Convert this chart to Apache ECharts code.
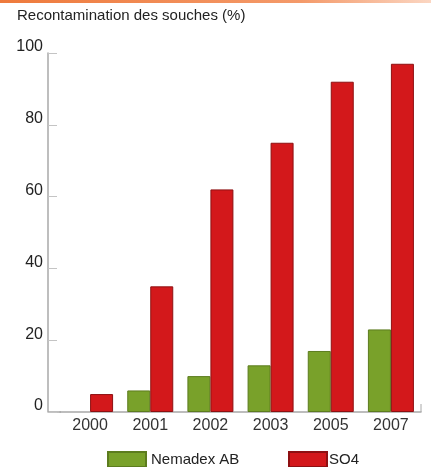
<!DOCTYPE html>
<html>
<head>
<meta charset="utf-8">
<script src="https://cdn.jsdelivr.net/npm/echarts@6/dist/echarts.min.js"></script>
<style>
html,body{margin:0;padding:0;background:#fff;}
#c{width:431px;height:467px;}
</style>
</head>
<body>
<div id="c"></div>
<script>
const categories = ['2000', '2001', '2002', '2003', '2005', '2007'];
const nemadex = [0, 6, 10, 13, 17, 23];
const so4 = [5, 35, 62, 75, 92, 97];
const yTicks = [0, 20, 40, 60, 80, 100];
const seriesNames = ['Nemadex AB', 'SO4'];
const titleText = 'Recontamination des souches (%)';

const FONT = '"Liberation Sans", Arial, sans-serif';
const noZeroBorder = arr => arr.map(v => v === 0 ? {value: v, itemStyle: {borderWidth: 0, opacity: 0}} : v);
const chart = echarts.init(document.getElementById('c'), null, {renderer: 'canvas'});
chart.setOption({
  backgroundColor: '#ffffff',
  animation: false,
  title: {
    text: titleText, left: 12, top: 3,
    textStyle: {fontFamily: FONT, fontSize: 15, fontWeight: 'normal', color: '#222'}
  },
  legend: [
    {data: [seriesNames[0]], left: 107, top: 451, padding: 0, itemWidth: 38, itemHeight: 15, icon: 'rect',
     textStyle: {fontFamily: FONT, fontSize: 15, color: '#222'}},
    {data: [seriesNames[1]], left: 288, top: 451, padding: 0, itemWidth: 38, itemHeight: 15, icon: 'rect',
     textStyle: {fontFamily: FONT, fontSize: 15, color: '#222', padding: [0,0,0,-3]}}
  ],
  grid: {left: 60, right: 10, top: 53, bottom: 55, containLabel: false},
  xAxis: {
    type: 'category', data: categories,
    axisLine: {lineStyle: {color: '#a8a8a8', width: 1.5}},
    axisTick: {show: false},
    axisLabel: {fontFamily: FONT, fontSize: 16, color: '#333', margin: 6}
  },
  yAxis: {
    type: 'value', min: yTicks[0], max: yTicks[yTicks.length-1], interval: 20, offset: 12,
    axisLine: {show: true, lineStyle: {color: '#a8a8a8', width: 1.5}},
    axisTick: {show: true, inside: true, length: 9, lineStyle: {color: '#c4c4c4'}},
    splitLine: {show: false},
    axisLabel: {fontFamily: FONT, fontSize: 16, color: '#222', margin: 5, verticalAlign: 'bottom', lineHeight: 12}
  },
  series: [
    {name: seriesNames[0], type: 'bar', data: noZeroBorder(nemadex), barWidth: 23, barGap: '0%',
     itemStyle: {color: '#79a12a', borderColor: '#5c7c1e', borderWidth: 1}},
    {name: seriesNames[1], type: 'bar', data: noZeroBorder(so4), barWidth: 23,
     itemStyle: {color: '#d3181b', borderColor: '#8e1012', borderWidth: 1}}
  ],
  graphic: [
    {type: 'rect', left: 0, top: 0, shape: {width: 431, height: 3},
     style: {fill: new echarts.graphic.LinearGradient(0,0,1,0,[{offset:0,color:'#ee7a3c'},{offset:0.7,color:'#f49a6a'},{offset:1,color:'#fbd6c2'}])}},
    {type: 'line', shape: {x1: 48, y1: 412, x2: 61, y2: 412}, style: {stroke: '#a8a8a8', lineWidth: 1.5}},
    {type: 'line', shape: {x1: 421, y1: 404, x2: 421, y2: 412}, style: {stroke: '#a8a8a8', lineWidth: 1}}
  ]
});
</script>
</body>
</html>
